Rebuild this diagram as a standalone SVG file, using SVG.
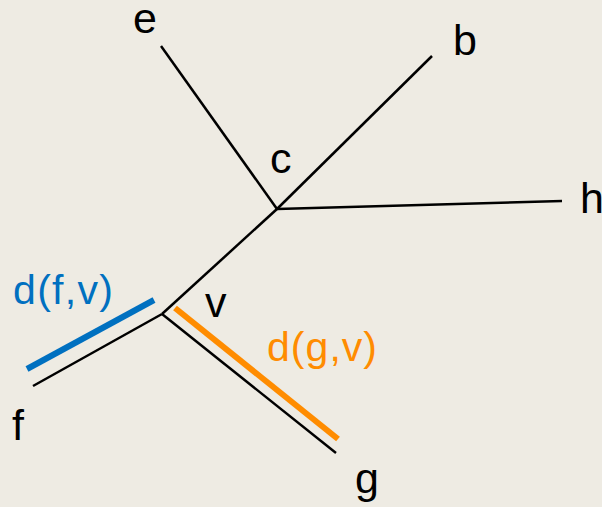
<svg xmlns="http://www.w3.org/2000/svg" width="602" height="507" viewBox="0 0 602 507">
  <style>
    .lbl { font-family: "Liberation Sans", Arial, sans-serif; font-size: 43px; fill: #000; }
    .dist { font-family: "Liberation Sans", Arial, sans-serif; font-size: 41px; }
    .edge { stroke: #000; stroke-width: 2.5; fill: none; stroke-linecap: butt; }
  </style>
  <rect x="0" y="0" width="602" height="507" fill="#EEEBE3"/>
  <g id="connectors">
    <line class="edge" x1="277" y1="209" x2="161" y2="46"/>
    <line class="edge" x1="277" y1="209" x2="432" y2="56"/>
    <line class="edge" x1="277" y1="209" x2="562" y2="201"/>
    <line class="edge" x1="277" y1="209" x2="162" y2="314"/>
    <line class="edge" x1="162" y1="314" x2="33" y2="386"/>
    <line class="edge" x1="162" y1="314" x2="336" y2="453"/>
  </g>
  <g id="dist-f-v">
    <line x1="27" y1="369" x2="154" y2="300" stroke="#0070C0" stroke-width="6"/>
    <text class="dist" x="13" y="304" fill="#0070C0" textLength="100">d(f,v)</text>
  </g>
  <g id="dist-g-v">
    <line x1="175" y1="308" x2="338" y2="439" stroke="#FF8C00" stroke-width="6"/>
    <text class="dist" x="267" y="361" fill="#FF8C00" textLength="110">d(g,v)</text>
  </g>
  <g id="node-e"><text class="lbl" x="133" y="33">e</text></g>
  <g id="node-b"><text class="lbl" x="453" y="55">b</text></g>
  <g id="node-c"><text class="lbl" x="270" y="173">c</text></g>
  <g id="node-h"><text class="lbl" x="580" y="213">h</text></g>
  <g id="node-v"><text class="lbl" x="205" y="317">v</text></g>
  <g id="node-f"><text class="lbl" x="12" y="440">f</text></g>
  <g id="node-g"><text class="lbl" x="355" y="493">g</text></g>
</svg>
